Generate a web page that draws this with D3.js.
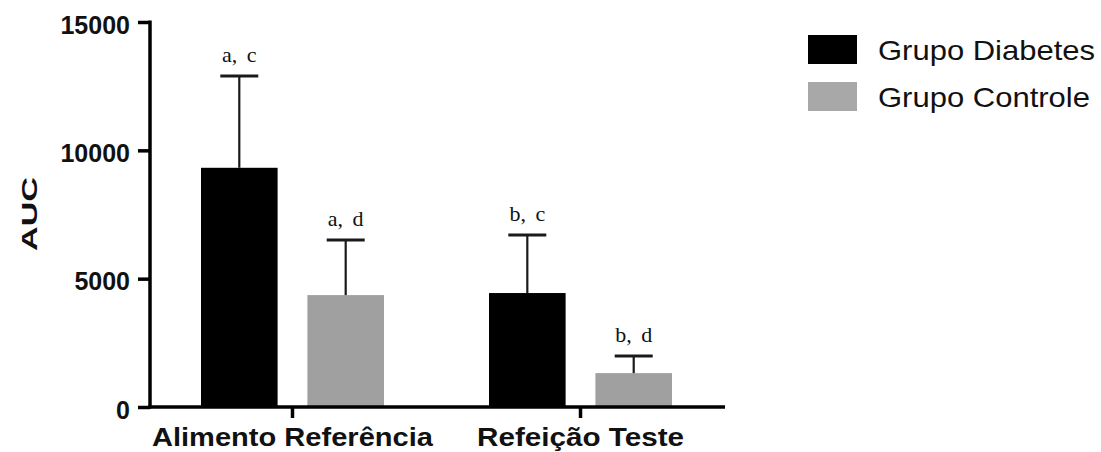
<!DOCTYPE html>
<html>
<head>
<meta charset="utf-8">
<script src="https://cdn.jsdelivr.net/npm/d3@7"></script>
<style>
  body { margin: 0; background: #fff; }
</style>
</head>
<body>
<div id="chart"></div>
<script>
// categories and groups
const categories = ["Alimento Referência", "Refeição Teste"];
const groups = ["Grupo Diabetes", "Grupo Controle"];

// mean AUC per category, one array per group
const diabetes = [9320, 4440];
const controle = [4360, 1320];
// upper end of the error bar (mean + sd)
const diabetesErr = [12900, 6700];
const controleErr = [6510, 1990];
// significance letters above each bar
const diabetesLbl = ["a, c", "b, c"];
const controleLbl = ["a, d", "b, d"];

const yTicks = [0, 5000, 10000, 15000];
const colors = ["#000000", "#a0a0a0"];

// the original text is drawn wide, so label widths get stretched to match
const catWidth = {"Alimento Referência": 281, "Refeição Teste": 207};
const legWidth = {"Grupo Diabetes": 217, "Grupo Controle": 212};

const svg = d3.select("#chart")
    .append("svg")
    .attr("width", 1101)
    .attr("height", 452);

const y = d3.scaleLinear()
    .domain([0, 15000])
    .range([407, 22]);

const x = d3.scalePoint()
    .domain(categories)
    .range([150, 722])
    .padding(0.493);

const xg = d3.scaleBand()
    .domain(groups)
    .range([-91, 92])
    .paddingInner(0.28);

// rows built from the arrays
const rows = [];
categories.forEach((c, i) => {
    rows.push({cat: c, grp: groups[0], v: diabetes[i], e: diabetesErr[i], lbl: diabetesLbl[i]});
    rows.push({cat: c, grp: groups[1], v: controle[i], e: controleErr[i], lbl: controleLbl[i]});
});
const color = d3.scaleOrdinal().domain(groups).range(colors);

// bars
svg.selectAll("rect.bar")
    .data(rows)
    .enter()
    .append("rect")
    .attr("class", "bar")
    .attr("x", d => x(d.cat) + xg(d.grp))
    .attr("width", xg.bandwidth())
    .attr("y", d => y(d.v))
    .attr("height", d => y(0) - y(d.v))
    .style("fill", d => color(d.grp));

// error bars (upper only)
const err = svg.selectAll("g.err")
    .data(rows)
    .enter()
    .append("g")
    .attr("class", "err")
    .attr("transform", d => `translate(${x(d.cat) + xg(d.grp) + xg.bandwidth() / 2},0)`);

err.append("line")
    .attr("y1", d => y(d.v))
    .attr("y2", d => y(d.e))
    .style("stroke", "#1a1a1a")
    .style("stroke-width", 2.2);

err.append("line")
    .attr("x1", -19)
    .attr("x2", 19)
    .attr("y1", d => y(d.e))
    .attr("y2", d => y(d.e))
    .style("stroke", "#1a1a1a")
    .style("stroke-width", 3);

err.append("text")
    .text(d => d.lbl)
    .attr("y", d => y(d.e) - 14)
    .attr("text-anchor", "middle")
    .style("font-family", "'Liberation Serif', 'Times New Roman', serif")
    .style("font-size", "22px")
    .style("word-spacing", "4px")
    .style("fill", "#111");

// y axis
const yAxis = svg.append("g")
    .attr("transform", "translate(150,0)")
    .call(d3.axisLeft(y).tickValues(yTicks).tickSize(12).tickPadding(8).tickFormat(d3.format("d")));

yAxis.select(".domain")
    .attr("d", `M0,${y(15000) - 1.5}V${y(0) + 1.5}`)
    .style("stroke", "#000")
    .style("stroke-width", 3.5);

yAxis.selectAll(".tick line")
    .style("stroke", "#000")
    .style("stroke-width", 3.5);

yAxis.selectAll(".tick text")
    .attr("dy", "0.45em")
    .style("font-family", "'Liberation Sans', Arial, sans-serif")
    .style("font-weight", "bold")
    .style("font-size", "25px")
    .style("fill", "#111");

// x axis
const xAxis = svg.append("g")
    .attr("transform", `translate(0,${y(0)})`)
    .call(d3.axisBottom(x).tickSize(11).tickPadding(8));

xAxis.select(".domain")
    .attr("d", "M148,0H725")
    .style("stroke", "#000")
    .style("stroke-width", 3.5);

xAxis.selectAll(".tick line")
    .style("stroke", "#000")
    .style("stroke-width", 3.5);

xAxis.selectAll(".tick text")
    .attr("dy", null)
    .attr("y", 39)
    .attr("textLength", d => catWidth[d])
    .attr("lengthAdjust", "spacingAndGlyphs")
    .style("font-family", "'Liberation Sans', Arial, sans-serif")
    .style("font-weight", "bold")
    .style("font-size", "25px")
    .style("fill", "#111");

// axis title
svg.append("text")
    .text("AUC")
    .attr("transform", "translate(37,214) rotate(-90)")
    .attr("text-anchor", "middle")
    .attr("textLength", 74)
    .attr("lengthAdjust", "spacingAndGlyphs")
    .style("font-family", "'Liberation Sans', Arial, sans-serif")
    .style("font-weight", "bold")
    .style("font-size", "22px")
    .style("fill", "#111");

// legend
const legend = svg.selectAll("g.legend")
    .data(groups)
    .enter()
    .append("g")
    .attr("class", "legend")
    .attr("transform", (d, i) => `translate(808,${35 + i * 47})`);

legend.append("rect")
    .attr("width", 49)
    .attr("height", 29)
    .style("fill", (d, i) => i === 0 ? colors[0] : "#a8a8a8");

legend.append("text")
    .text(d => d)
    .attr("x", 70)
    .attr("y", 25)
    .attr("textLength", d => legWidth[d])
    .attr("lengthAdjust", "spacingAndGlyphs")
    .style("font-family", "'Liberation Sans', Arial, sans-serif")
    .style("font-size", "28px")
    .style("fill", "#111");
</script>
</body>
</html>
